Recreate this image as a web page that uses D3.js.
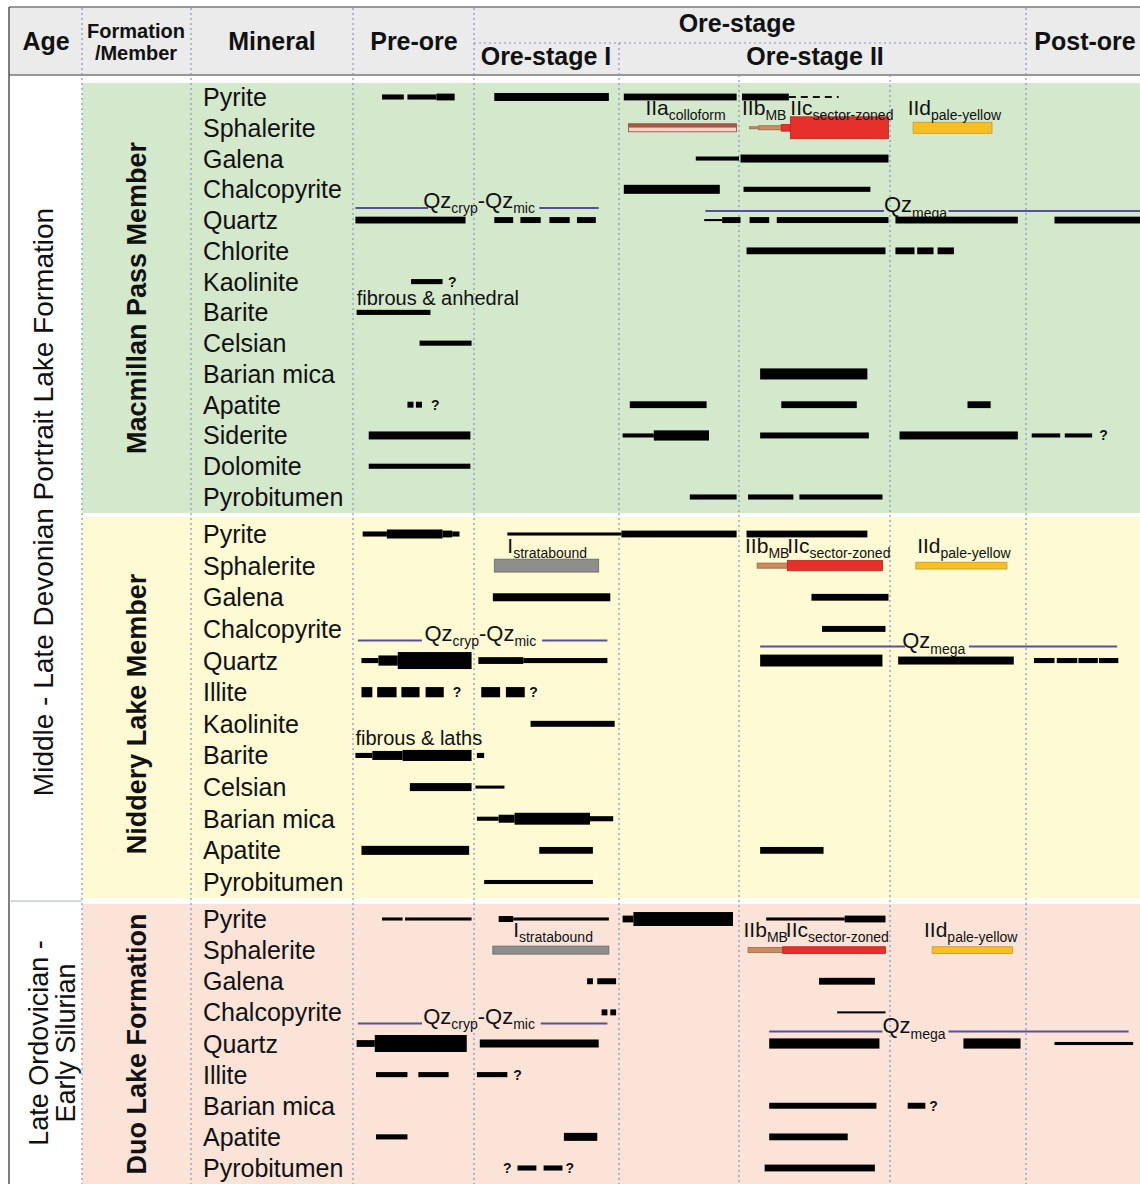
<!DOCTYPE html>
<html>
<head>
<meta charset="utf-8">
<script src="https://cdn.jsdelivr.net/npm/d3@7/dist/d3.min.js"></script>
<style>
body { margin: 0; background: #fff; }
text { font-family: "Liberation Sans", Arial, sans-serif; fill: #111; }
</style>
</head>
<body>
<div id="wrapper"></div>
<script>
// ---- data (x values in stage units: 0-1 pre-ore, 1-2 ore-stage I, 2-3 IIa, 3-4 IIb/IIc, 4-5 IId, 5-6 post-ore)
const headerCols = ["Age", "Mineral", "Pre-ore", "Ore-stage", "Ore-stage I", "Ore-stage II", "Post-ore"];
const memberNames = ["Macmillan Pass Member", "Niddery Lake Member", "Duo Lake Formation"];
const ageLabels = [["Middle - Late Devonian Portrait Lake Formation"], ["Late Ordovician -", "Early Silurian"]];

const mineralsMacmillan = ["Pyrite", "Sphalerite", "Galena", "Chalcopyrite", "Quartz", "Chlorite", "Kaolinite",
    "Barite", "Celsian", "Barian mica", "Apatite", "Siderite", "Dolomite", "Pyrobitumen"];
const mineralsNiddery = ["Pyrite", "Sphalerite", "Galena", "Chalcopyrite", "Quartz", "Illite", "Kaolinite",
    "Barite", "Celsian", "Barian mica", "Apatite", "Pyrobitumen"];
const mineralsDuo = ["Pyrite", "Sphalerite", "Galena", "Chalcopyrite", "Quartz", "Illite", "Barian mica",
    "Apatite", "Pyrobitumen"];

// [mineral, start, end, abundance, style]
const barsMacmillan = [
    ["Pyrite", 0.24, 0.42, 3], ["Pyrite", 0.45, 0.69, 3], ["Pyrite", 0.69, 0.84, 4],
    ["Pyrite", 1.14, 1.93, 4.7], ["Pyrite", 2.04, 2.98, 4], ["Pyrite", 3.02, 3.33, 4],
    ["Pyrite", 3.33, 3.66, 1.2, "dash"],
    ["Galena", 2.64, 3.0, 2.4], ["Galena", 3.01, 3.99, 4.7],
    ["Chalcopyrite", 2.04, 2.84, 5.3], ["Chalcopyrite", 3.03, 3.87, 3],
    ["Quartz", 0.02, 0.93, 4],
    ["Quartz", 1.14, 1.27, 3.5], ["Quartz", 1.32, 1.46, 3.5], ["Quartz", 1.52, 1.66, 3.5], ["Quartz", 1.71, 1.84, 3.5],
    ["Quartz", 2.71, 2.86, 1.2], ["Quartz", 2.86, 3.01, 3.5], ["Quartz", 3.07, 3.20, 3.5], ["Quartz", 3.25, 3.99, 3.5],
    ["Quartz", 4.04, 4.94, 4], ["Quartz", 5.25, 6.0, 4],
    ["Chlorite", 3.05, 3.97, 4], ["Chlorite", 4.04, 4.18, 4], ["Chlorite", 4.20, 4.32, 4], ["Chlorite", 4.35, 4.47, 4],
    ["Kaolinite", 0.48, 0.74, 3],
    ["Barite", 0.03, 0.64, 3],
    ["Celsian", 0.55, 0.98, 3],
    ["Barian mica", 3.14, 3.85, 6.5],
    ["Apatite", 0.45, 0.50, 3.5], ["Apatite", 0.52, 0.57, 3.5], ["Apatite", 2.09, 2.73, 4],
    ["Apatite", 3.28, 3.78, 4], ["Apatite", 4.57, 4.74, 4],
    ["Siderite", 0.13, 0.97, 4.7], ["Siderite", 2.03, 2.29, 2.4], ["Siderite", 2.29, 2.75, 6],
    ["Siderite", 3.14, 3.86, 3.5], ["Siderite", 4.07, 4.94, 4.7], ["Siderite", 5.05, 5.30, 2.4], ["Siderite", 5.34, 5.58, 2.4],
    ["Dolomite", 0.13, 0.97, 3],
    ["Pyrobitumen", 2.59, 2.98, 3], ["Pyrobitumen", 3.06, 3.36, 3], ["Pyrobitumen", 3.40, 3.95, 3]
];
const barsNiddery = [
    ["Pyrite", 0.08, 0.28, 3], ["Pyrite", 0.28, 0.74, 5.3], ["Pyrite", 0.74, 0.82, 4], ["Pyrite", 0.82, 0.88, 3],
    ["Pyrite", 1.23, 2.02, 1.8], ["Pyrite", 2.02, 2.98, 4], ["Pyrite", 3.05, 3.85, 4],
    ["Galena", 1.13, 1.94, 4.7], ["Galena", 3.48, 3.99, 4],
    ["Chalcopyrite", 3.55, 3.97, 3.5],
    ["Quartz", 0.07, 0.21, 3], ["Quartz", 0.21, 0.37, 6], ["Quartz", 0.37, 0.98, 10],
    ["Quartz", 1.03, 1.34, 4], ["Quartz", 1.34, 1.92, 3],
    ["Quartz", 3.14, 3.95, 7], ["Quartz", 4.06, 4.91, 4.7],
    ["Quartz", 5.07, 5.25, 3], ["Quartz", 5.27, 5.45, 3], ["Quartz", 5.46, 5.63, 3], ["Quartz", 5.64, 5.81, 3],
    ["Illite", 0.07, 0.16, 6], ["Illite", 0.20, 0.36, 6], ["Illite", 0.40, 0.55, 6], ["Illite", 0.60, 0.75, 6],
    ["Illite", 1.05, 1.18, 6], ["Illite", 1.22, 1.35, 6],
    ["Kaolinite", 1.39, 1.97, 3.5],
    ["Barite", 0.02, 0.16, 3], ["Barite", 0.16, 0.41, 5.3], ["Barite", 0.41, 0.98, 6.5], ["Barite", 1.02, 1.07, 3],
    ["Celsian", 0.47, 0.98, 4.7], ["Celsian", 1.01, 1.21, 1.8],
    ["Barian mica", 1.02, 1.17, 2.4], ["Barian mica", 1.17, 1.28, 4.7], ["Barian mica", 1.28, 1.80, 7], ["Barian mica", 1.80, 1.96, 3],
    ["Apatite", 0.07, 0.96, 5.3], ["Apatite", 1.45, 1.82, 4], ["Apatite", 3.14, 3.56, 4],
    ["Pyrobitumen", 1.07, 1.82, 2.4]
];
const barsDuo = [
    ["Pyrite", 0.24, 0.41, 1.8], ["Pyrite", 0.43, 0.98, 1.8],
    ["Pyrite", 1.17, 1.27, 3.5], ["Pyrite", 1.27, 1.93, 1.8],
    ["Pyrite", 2.03, 2.12, 4], ["Pyrite", 2.12, 2.95, 8.2],
    ["Pyrite", 3.18, 3.70, 1.8], ["Pyrite", 3.70, 3.97, 4],
    ["Galena", 1.78, 1.82, 3.5], ["Galena", 1.85, 1.98, 3.5], ["Galena", 3.53, 3.90, 4],
    ["Chalcopyrite", 1.88, 1.92, 3.5], ["Chalcopyrite", 1.94, 1.98, 3.5], ["Chalcopyrite", 3.65, 3.97, 1.2],
    ["Quartz", 0.03, 0.18, 4], ["Quartz", 0.18, 0.94, 10], ["Quartz", 1.04, 1.86, 4.7],
    ["Quartz", 3.20, 3.93, 6], ["Quartz", 4.54, 4.96, 6], ["Quartz", 5.25, 5.94, 1.8],
    ["Illite", 0.19, 0.45, 3], ["Illite", 0.54, 0.79, 3], ["Illite", 1.02, 1.23, 3],
    ["Barian mica", 3.20, 3.91, 3.5], ["Barian mica", 4.13, 4.26, 3.5],
    ["Apatite", 0.19, 0.45, 3], ["Apatite", 1.62, 1.85, 4.7], ["Apatite", 3.20, 3.72, 4],
    ["Pyrobitumen", 1.30, 1.43, 3], ["Pyrobitumen", 1.48, 1.61, 3], ["Pyrobitumen", 3.17, 3.90, 4]
];

// sphalerite generations [type, start, end, abundance]
const sphMacmillan = [["IIa", 2.08, 2.98, 4.7], ["IIb", 3.07, 3.13, 1.2], ["IIb", 3.13, 3.28, 2.4],
    ["IIc", 3.28, 3.34, 4], ["IIc", 3.34, 3.99, 12.9], ["IId", 4.17, 4.75, 6.5]];
const sphNiddery = [["I", 1.14, 1.86, 7.6], ["IIb", 3.12, 3.32, 3], ["IIc", 3.32, 3.95, 6], ["IId", 4.19, 4.86, 4]];
const sphDuo = [["I", 1.13, 1.93, 4.7], ["IIb", 3.06, 3.29, 3], ["IIc", 3.29, 3.97, 4], ["IId", 4.31, 4.90, 4]];

const sphLabelsMacmillan = [["IIa", "colloform", 2.22], ["IIb", "MB", 3.02], ["IIc", "sector-zoned", 3.34], ["IId", "pale-yellow", 4.13]];
const sphLabelsNiddery = [["I", "stratabound", 1.23], ["IIb", "MB", 3.04], ["IIc", "sector-zoned", 3.32], ["IId", "pale-yellow", 4.20]];
const sphLabelsDuo = [["I", "stratabound", 1.27], ["IIb", "MB", 3.03], ["IIc", "sector-zoned", 3.31], ["IId", "pale-yellow", 4.25]];

// quartz generations: line spans and label start
const qzMacmillan = {cryp: [[0.02, 0.62], [1.45, 1.86]], crypAt: 0.58, mega: [[2.72, 3.96], [4.43, 6.0]], megaAt: 3.96};
const qzNiddery = {cryp: [[0.04, 0.57], [1.47, 1.92]], crypAt: 0.59, mega: [[3.14, 4.11], [4.58, 5.80]], megaAt: 4.09};
const qzDuo = {cryp: [[0.04, 0.57], [1.46, 1.92]], crypAt: 0.58, mega: [[3.20, 3.95], [4.43, 5.90]], megaAt: 3.95};

// uncertain occurrences
const qMacmillan = [["Kaolinite", 0.82], ["Apatite", 0.68], ["Siderite", 5.68]];
const qNiddery = [["Illite", 0.86], ["Illite", 1.41]];
const qDuo = [["Illite", 1.30], ["Barian mica", 4.32], ["Pyrobitumen", 1.23], ["Pyrobitumen", 1.66]];

const notesMacmillan = [["Barite", 0.03, "fibrous & anhedral"]];
const notesNiddery = [["Barite", 0.02, "fibrous & laths"]];

function buildChart(id) {
    const width = 1140, height = 1184;
    const svg = d3.select("#" + id).append("svg")
        .attr("width", width).attr("height", height);

    const x = d3.scaleLinear()
        .domain([0, 1, 2, 3, 4, 5, 6])
        .range([353, 474, 619, 739, 890, 1026, 1140]);
    const thick = d3.scaleLinear().domain([0, 10]).range([0, 17]);

    const sections = [
        {minerals: mineralsMacmillan, bars: barsMacmillan, sph: sphMacmillan, sphLabels: sphLabelsMacmillan,
         qz: qzMacmillan, q: qMacmillan, notes: notesMacmillan,
         top: 83, bottom: 513, rows: [97, 497], fill: "#d4e8cc", qzOff: [-12, -9], formY: 298, noteOff: -7},
        {minerals: mineralsNiddery, bars: barsNiddery, sph: sphNiddery, sphLabels: sphLabelsNiddery,
         qz: qzNiddery, q: qNiddery, notes: notesNiddery,
         top: 517, bottom: 898, rows: [534, 882], fill: "#fefad3", qzOff: [-20, -14], formY: 714, noteOff: -10},
        {minerals: mineralsDuo, bars: barsDuo, sph: sphDuo, sphLabels: sphLabelsDuo,
         qz: qzDuo, q: qDuo, notes: [],
         top: 904, bottom: 1184, rows: [919, 1168], fill: "#fbe3d8", qzOff: [-20, -12], formY: 1044, noteOff: -8}
    ];

    const sphFill = {I: "#8e8e8e", IIb: "#c98b5f", IIc: "#e6302b", IId: "#f8bf22"};
    const sphStroke = {I: "#666", IIb: "#9a6843", IIc: "#b8241f", IId: "#c9962c"};
    const qzColor = "#5a4f9c";

    // header
    svg.append("rect").attr("x", 9).attr("y", 7).attr("width", width - 9).attr("height", 68)
        .attr("fill", "#ebebeb");
    svg.append("line").attr("x1", 9).attr("x2", width).attr("y1", 7).attr("y2", 7)
        .attr("stroke", "#777").attr("stroke-width", 1.5);
    svg.append("line").attr("x1", 9).attr("x2", width).attr("y1", 75).attr("y2", 75)
        .attr("stroke", "#777").attr("stroke-width", 1.5);
    svg.append("line").attr("x1", 9).attr("x2", 9).attr("y1", 7).attr("y2", height)
        .attr("stroke", "#555").attr("stroke-width", 1.5);

    // section backgrounds
    sections.forEach(s => {
        svg.append("rect").attr("x", 82).attr("y", s.top).attr("width", width - 82)
            .attr("height", s.bottom - s.top).attr("fill", s.fill);
    });
    svg.append("line").attr("x1", 9).attr("x2", 82).attr("y1", 901).attr("y2", 901)
        .attr("stroke", "#aab0cc").attr("stroke-width", 1);

    // dotted dividers
    const dotted = "2,3";
    const dotColor = "#8890c2";
    [82, 191, 353, 474, 1026].forEach(px => {
        svg.append("line").attr("x1", px).attr("x2", px).attr("y1", 8).attr("y2", height)
            .attr("stroke", dotColor).attr("stroke-width", 1.2).attr("stroke-dasharray", dotted);
    });
    svg.append("line").attr("x1", 619).attr("x2", 619).attr("y1", 43).attr("y2", height)
        .attr("stroke", dotColor).attr("stroke-width", 1.2).attr("stroke-dasharray", dotted);
    [739, 890].forEach(px => {
        svg.append("line").attr("x1", px).attr("x2", px).attr("y1", 75).attr("y2", height)
            .attr("stroke", dotColor).attr("stroke-width", 1.2).attr("stroke-dasharray", dotted);
    });
    svg.append("line").attr("x1", 474).attr("x2", 1026).attr("y1", 43).attr("y2", 43)
        .attr("stroke", dotColor).attr("stroke-width", 1.2).attr("stroke-dasharray", dotted);

    // header text
    const hdr = svg.append("g").style("font-weight", "bold").style("font-size", "25px");
    const hdrPos = [[46, 41], [272, 41], [414, 41], [737, 23], [546, 56], [815, 56], [1085, 41]];
    headerCols.forEach((t, i) => {
        hdr.append("text").attr("x", hdrPos[i][0]).attr("y", hdrPos[i][1])
            .attr("text-anchor", "middle").attr("dominant-baseline", "central").text(t);
    });
    hdr.append("text").attr("x", 136).attr("y", 31).attr("text-anchor", "middle")
        .attr("dominant-baseline", "central").style("font-size", "20px").text("Formation");
    hdr.append("text").attr("x", 136).attr("y", 53).attr("text-anchor", "middle")
        .attr("dominant-baseline", "central").style("font-size", "20px").text("/Member");

    // age labels
    svg.append("text").attr("transform", "translate(43,502) rotate(-90)")
        .attr("text-anchor", "middle").attr("dominant-baseline", "central")
        .style("font-size", "28px").text(ageLabels[0][0]);
    ageLabels[1].forEach((t, i) => {
        svg.append("text").attr("transform", `translate(${39 + i * 27},1043) rotate(-90)`)
            .attr("text-anchor", "middle").attr("dominant-baseline", "central")
            .style("font-size", "27px").text(t);
    });

    function subText(g, px, py, parts, size, subSize, shift) {
        const t = g.append("text").attr("x", px).attr("y", py).style("font-size", size + "px");
        let down = false;
        parts.forEach(p => {
            const isSub = p[1];
            const dy = isSub && !down ? shift : (!isSub && down ? -shift : 0);
            down = isSub;
            t.append("tspan").attr("dy", dy).style("font-size", (isSub ? subSize : size) + "px").text(p[0]);
        });
        return t;
    }

    sections.forEach((s, si) => {
        const g = svg.append("g");
        const y = d3.scalePoint().domain(s.minerals).range(s.rows);

        // member name
        g.append("text").attr("transform", `translate(137,${s.formY}) rotate(-90)`)
            .attr("text-anchor", "middle").attr("dominant-baseline", "central")
            .style("font-size", "27px").style("font-weight", "bold").text(memberNames[si]);

        // mineral names
        g.selectAll(".mineral").data(s.minerals).enter().append("text")
            .attr("x", 203).attr("y", d => y(d)).attr("dominant-baseline", "central")
            .style("font-size", "25px").text(d => d);

        // quartz generation lines
        const cy = y("Quartz") + s.qzOff[0];
        const my = y("Quartz") + s.qzOff[1];
        s.qz.cryp.forEach(r => {
            g.append("line").attr("x1", x(r[0])).attr("x2", x(r[1])).attr("y1", cy).attr("y2", cy)
                .attr("stroke", qzColor).attr("stroke-width", 2);
        });
        s.qz.mega.forEach(r => {
            g.append("line").attr("x1", x(r[0])).attr("x2", x(r[1])).attr("y1", my).attr("y2", my)
                .attr("stroke", qzColor).attr("stroke-width", 2);
        });
        subText(g, x(s.qz.crypAt), cy, [["Qz", false], ["cryp", true], ["-Qz", false], ["mic", true]], 22, 14, 5);
        subText(g, x(s.qz.megaAt), my + 1, [["Qz", false], ["mega", true]], 22, 14, 6);

        // black bars
        s.bars.forEach(b => {
            const h = thick(b[3]);
            if (b[4] === "dash") {
                g.append("line").attr("x1", x(b[1])).attr("x2", x(b[2]))
                    .attr("y1", y(b[0])).attr("y2", y(b[0]))
                    .attr("stroke", "#111").attr("stroke-width", h).attr("stroke-dasharray", "7,5");
            } else {
                g.append("rect").attr("x", x(b[1])).attr("y", y(b[0]) - h / 2)
                    .attr("width", x(b[2]) - x(b[1])).attr("height", h).attr("fill", "#000");
            }
        });

        // sphalerite generations
        const sy = y("Sphalerite");
        s.sph.forEach(b => {
            const h = thick(b[3]);
            if (b[0] === "IIa") {
                g.append("rect").attr("x", x(b[1])).attr("y", sy - h / 2)
                    .attr("width", x(b[2]) - x(b[1])).attr("height", h / 2).attr("fill", "#a9594c");
                g.append("rect").attr("x", x(b[1])).attr("y", sy)
                    .attr("width", x(b[2]) - x(b[1])).attr("height", h / 2).attr("fill", "#fbd2c6");
                g.append("rect").attr("x", x(b[1])).attr("y", sy - h / 2)
                    .attr("width", x(b[2]) - x(b[1])).attr("height", h)
                    .attr("fill", "none").attr("stroke", "#8c4a3e").attr("stroke-width", 0.8);
            } else {
                g.append("rect").attr("x", x(b[1])).attr("y", sy - h / 2)
                    .attr("width", x(b[2]) - x(b[1])).attr("height", h)
                    .attr("fill", sphFill[b[0]]).attr("stroke", sphStroke[b[0]]).attr("stroke-width", 0.8);
            }
        });
        s.sphLabels.forEach(l => {
            subText(g, x(l[2]), sy - 13, [[l[0], false], [l[1], true]], 21, 14, 5);
        });

        // question marks
        s.q.forEach(q => {
            g.append("text").attr("x", x(q[1])).attr("y", y(q[0]))
                .attr("text-anchor", "middle").attr("dominant-baseline", "central")
                .style("font-size", "14px").style("font-weight", "bold").text("?");
        });

        // notes
        s.notes.forEach(n => {
            g.append("text").attr("x", x(n[1])).attr("y", y(n[0]) + s.noteOff)
                .style("font-size", "20px").text(n[2]);
        });
    });
}

buildChart("wrapper");
</script>
</body>
</html>
